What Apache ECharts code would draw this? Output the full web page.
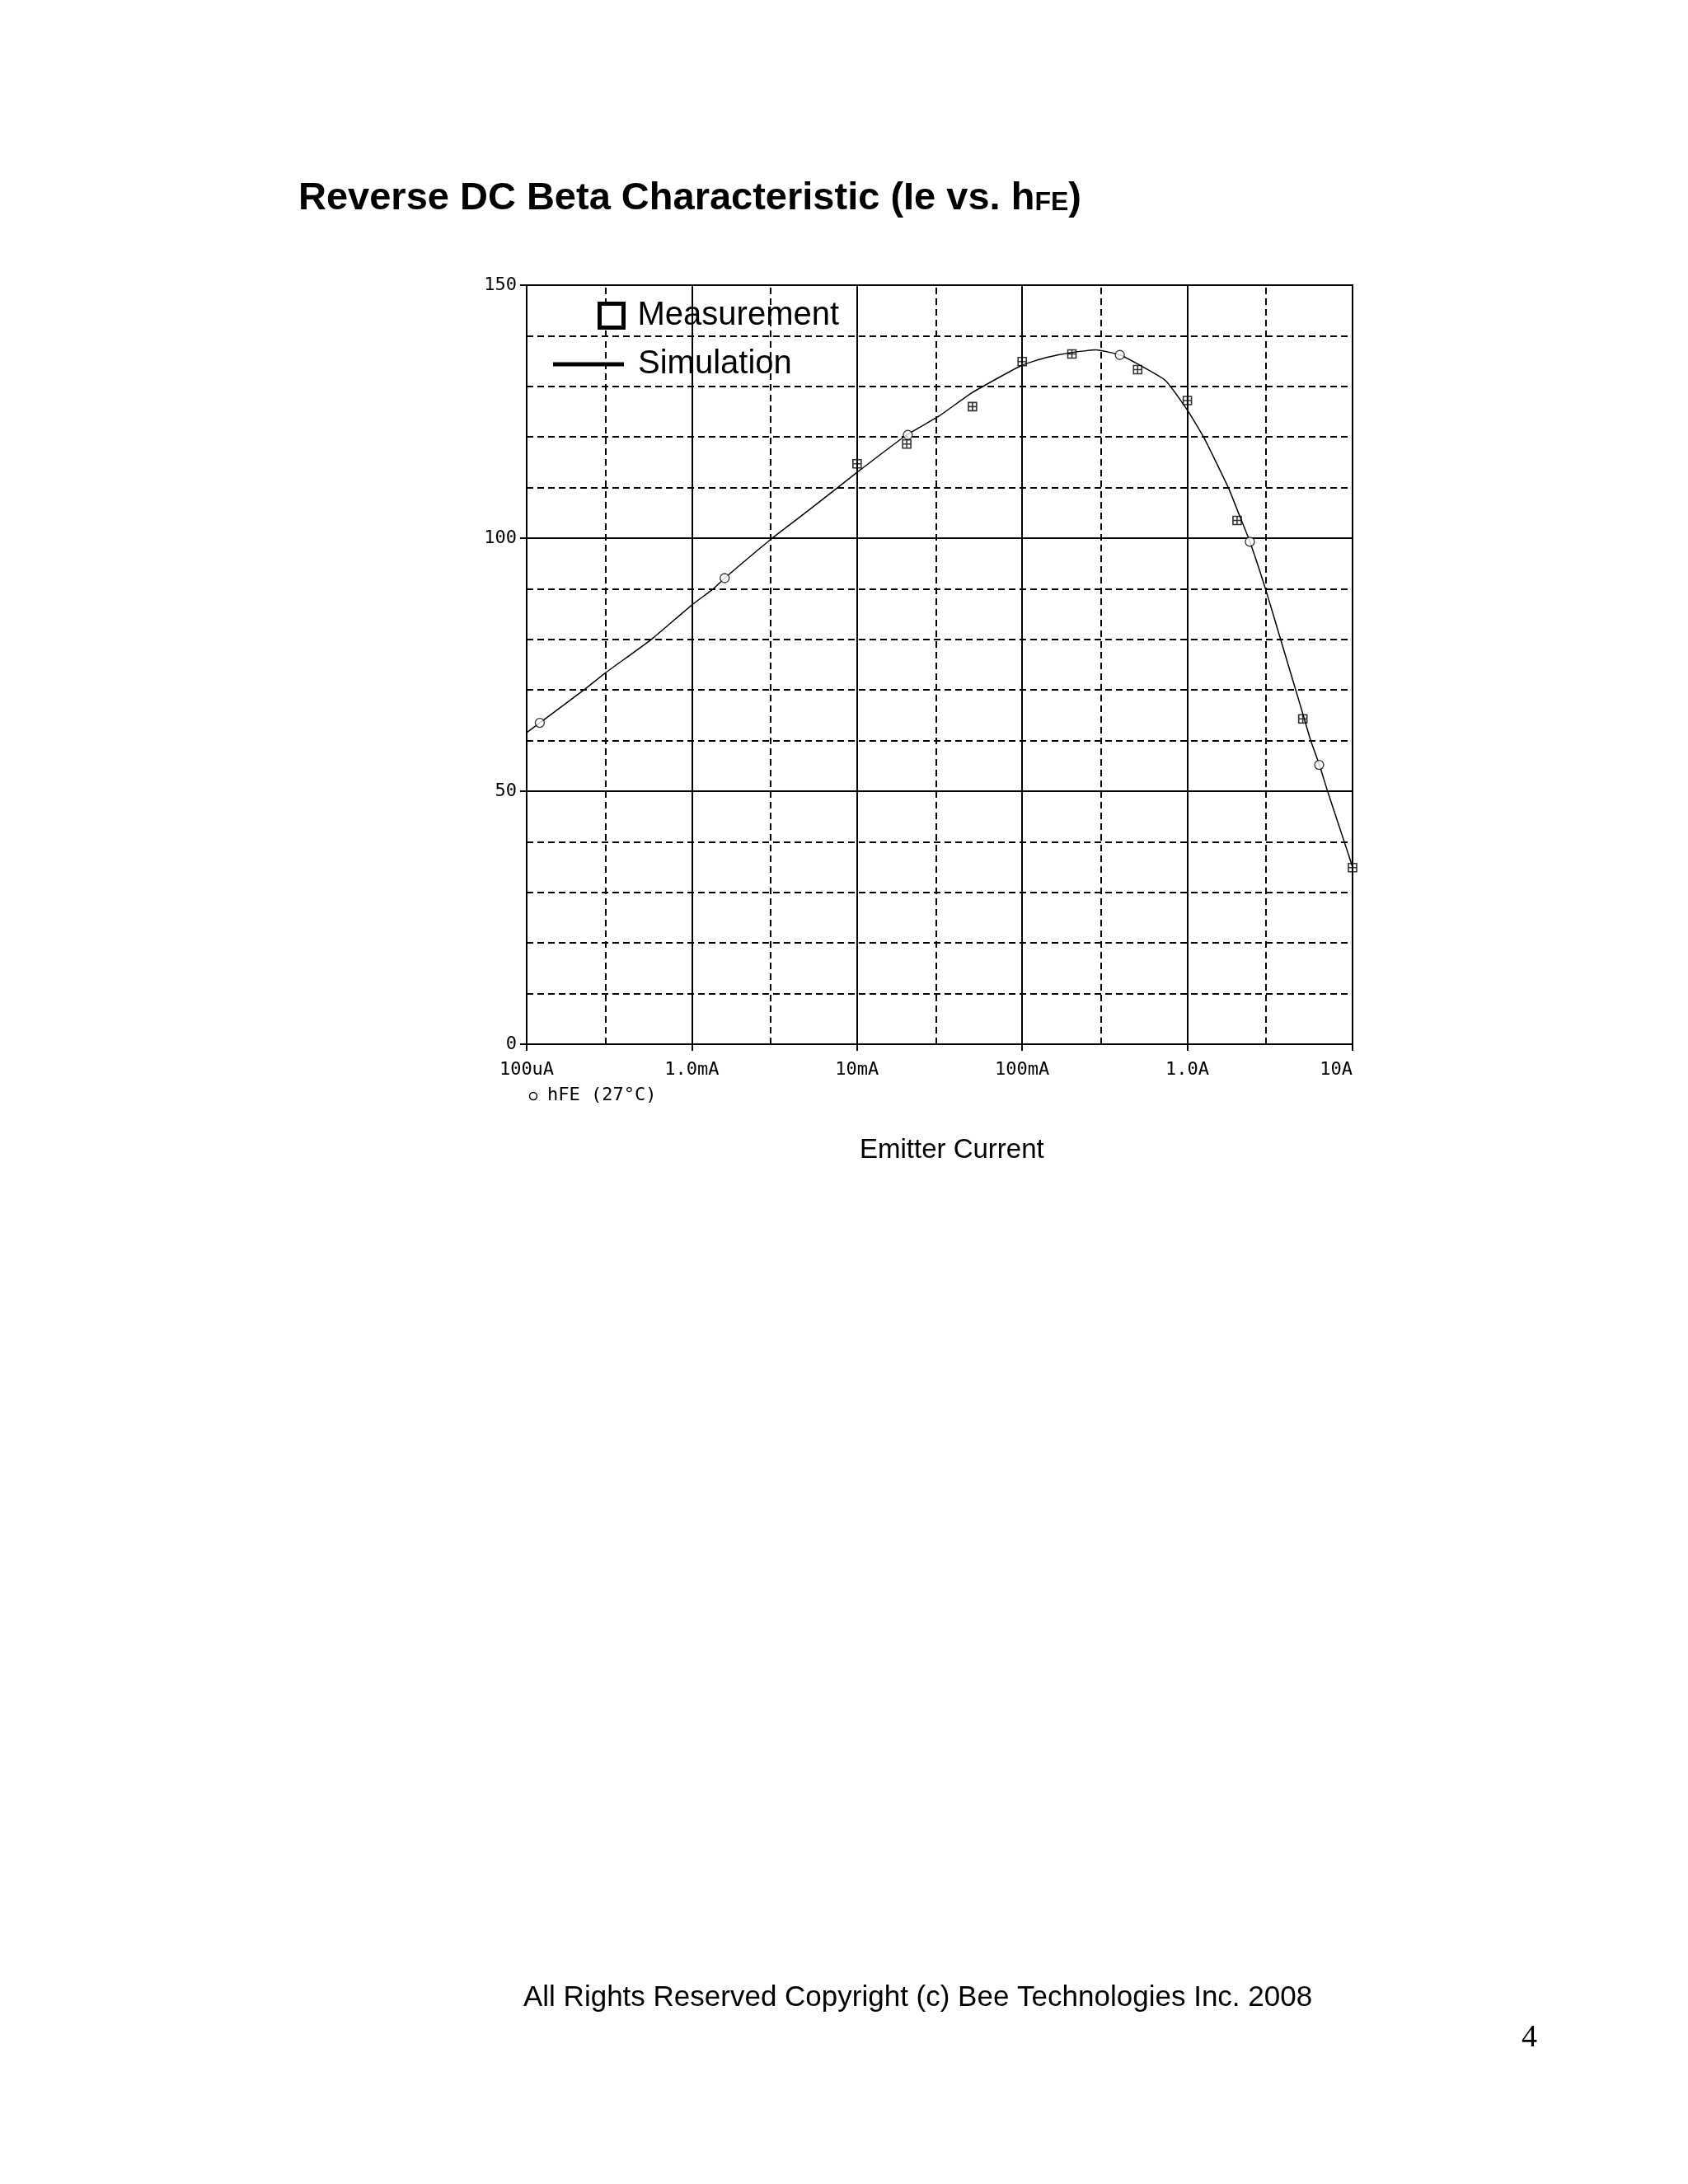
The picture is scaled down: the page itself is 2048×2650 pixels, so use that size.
<!DOCTYPE html>
<html>
<head>
<meta charset="utf-8">
<title>Reverse DC Beta Characteristic</title>
<script src="https://cdn.jsdelivr.net/npm/echarts@6/dist/echarts.min.js"></script>
<style>
  html, body { margin: 0; padding: 0; background: #fff; }
  #chart { width: 2048px; height: 2650px; }
</style>
</head>
<body>
<div id="chart"></div>
<script>
// emitter current (A) and hFE of the simulated curve
var simCurrent = [1.0e-4, 1.2e-4, 2.22e-4, 3.0e-4, 5.69e-4, 1.0e-3, 1.35e-3, 1.58e-3, 3.07e-3,
    5.0e-3, 1.0e-2, 2.0e-2, 3.16e-2, 5.0e-2, 0.1, 0.14, 0.2, 0.28, 0.39, 0.495, 0.734, 1.0,
    1.253, 1.77, 2.05, 2.39, 2.97, 3.63, 4.53, 5.0, 5.58, 6.3, 7.06, 9.12, 10];
var simHfe = [61.6, 63.5, 70, 73.4, 80, 86.8, 90, 92.1, 100,
    105.3, 113, 120.4, 124.2, 128.8, 134.2, 135.7, 136.7, 137.2, 136.2, 134.5, 131.2, 125.3,
    120, 110, 104.8, 99.3, 90, 80.5, 70, 65.3, 60, 55.2, 50, 39, 35];

// trace markers (circles) on the simulated curve
var markCurrent = [1.2e-4, 1.58e-3, 2.03e-2, 0.39, 2.39, 6.28];
var markHfe = [63.5, 92.1, 120.4, 136.2, 99.3, 55.2];

// measured points
var measCurrent = [0.01, 0.02, 0.05, 0.1, 0.2, 0.5, 1, 2, 5, 10];
var measHfe = [114.7, 118.6, 126.0, 134.9, 136.4, 133.3, 127.2, 103.5, 64.3, 34.9];

var xTickLabels = ['100uA', '1.0mA', '10mA', '100mA', '1.0A', '10A'];
// dashed vertical grid lines between decades
var xDashedGrid = [3e-4, 3e-3, 3e-2, 0.3, 3];
var yMin = 0, yMax = 150;

function zip(xs, ys) {
    var out = [];
    for (var i = 0; i < xs.length; i++) {
        out.push([xs[i], ys[i]]);
    }
    return out;
}

var monoFont = 'DejaVu Sans Mono';
var sansFont = 'Liberation Sans';
var gridLeft = 639, gridTop = 346, gridW = 1002, gridH = 921;
var dashStyle = {color: '#000', width: 2, type: [8, 5]};

var myChart = echarts.init(document.getElementById('chart'), null, {renderer: 'canvas'});

var option = {
    backgroundColor: '#fff',
    animation: false,
    grid: {
        left: gridLeft, top: gridTop, width: gridW, height: gridH,
        show: true, borderColor: '#000', borderWidth: 2, backgroundColor: 'transparent'
    },
    legend: [
        {
            data: [{name: 'Measurement', icon: 'rect',
                itemStyle: {color: '#ffffff', opacity: 1, borderColor: '#000', borderWidth: 5}}],
            left: 720, top: 358, itemWidth: 29, itemHeight: 29, z: 10,
            selectedMode: false,
            textStyle: {fontFamily: sansFont, fontSize: 40, color: '#000', padding: [0, 0, 0, 12]}
        },
        {
            data: [{name: 'Simulation', icon: 'rect', itemStyle: {color: '#000', borderWidth: 0}}],
            left: 666, top: 417, itemWidth: 86, itemHeight: 5, z: 10,
            selectedMode: false,
            textStyle: {fontFamily: sansFont, fontSize: 40, color: '#000', padding: [0, 0, 0, 12]}
        }
    ],
    xAxis: {
        type: 'log', logBase: 10, min: 1e-4, max: 10,
        axisLine: {show: true, lineStyle: {color: '#000', width: 2}},
        axisTick: {show: true, length: 8, lineStyle: {color: '#000', width: 2}},
        axisLabel: {
            margin: 20, fontFamily: monoFont, fontSize: 22, color: '#000',
            alignMaxLabel: 'right',
            formatter: function (v) {
                return xTickLabels[Math.round(Math.log10(v)) + 4];
            }
        },
        splitLine: {show: true, lineStyle: {color: '#000', width: 2, type: 'solid'}}
    },
    yAxis: [
        {
            type: 'value', min: yMin, max: yMax, interval: 50,
            axisLine: {show: true, lineStyle: {color: '#000', width: 2}},
            axisTick: {show: true, length: 8, lineStyle: {color: '#000', width: 2}},
            axisLabel: {margin: 12, fontFamily: monoFont, fontSize: 22, color: '#000'},
            splitLine: {show: true, lineStyle: {color: '#000', width: 2, type: 'solid'}}
        },
        {
            type: 'value', min: yMin, max: yMax, interval: 10, position: 'left',
            axisLine: {show: false}, axisTick: {show: false}, axisLabel: {show: false},
            splitLine: {show: true, lineStyle: dashStyle}
        }
    ],
    series: [
        {
            name: 'grid', type: 'line', data: [], z: 1, silent: true,
            markLine: {
                silent: true, symbol: ['none', 'none'], label: {show: false},
                lineStyle: dashStyle, animation: false,
                data: xDashedGrid.map(function (v) {
                    return [{coord: [v, yMin]}, {coord: [v, yMax]}];
                })
            }
        },
        {
            name: 'Simulation', type: 'line', yAxisIndex: 0,
            data: zip(simCurrent, simHfe),
            showSymbol: false, smooth: 0.15,
            lineStyle: {color: '#000', width: 1.5},
            itemStyle: {color: '#000'},
            z: 3
        },
        {
            name: 'hFE markers', type: 'scatter', yAxisIndex: 0,
            data: zip(markCurrent, markHfe),
            symbol: 'circle', symbolSize: 11,
            itemStyle: {color: '#fff', borderColor: '#000', borderWidth: 1.3},
            z: 4
        },
        {
            name: 'Measurement', type: 'scatter', yAxisIndex: 0,
            data: zip(measCurrent, measHfe),
            symbol: 'path://M0,0H10V10H0Z M5,0V10 M0,5H10', symbolSize: 10,
            itemStyle: {color: 'rgba(0,0,0,0)', borderColor: '#000', borderWidth: 1.6},
            z: 5
        }
    ],
    graphic: [
        {
            type: 'text', left: 362, top: 218,
            style: {
                rich: {
                    a: {fontFamily: sansFont, fontWeight: 'bold', fontSize: 47, lineHeight: 54,
                        verticalAlign: 'bottom', fill: '#000'},
                    b: {fontFamily: sansFont, fontWeight: 'bold', fontSize: 32, lineHeight: 54,
                        verticalAlign: 'bottom', fill: '#000', padding: [0, 0, 3, 0]}
                },
                text: '{a|Reverse DC Beta Characteristic (Ie vs. h}{b|FE}{a|)}'
            }
        },
        {
            type: 'circle', shape: {cx: 647, cy: 1330, r: 4.5},
            style: {fill: '#fff', stroke: '#000', lineWidth: 1.5}
        },
        {
            type: 'text', left: 664, top: 1318,
            style: {text: 'hFE (27°C)', fontFamily: monoFont, fontSize: 22, fill: '#000'}
        },
        {
            type: 'text', left: 1043, top: 1379,
            style: {text: 'Emitter Current', fontFamily: sansFont, fontSize: 33, fill: '#000'}
        },
        {
            type: 'text', left: 635, top: 2407,
            style: {text: 'All Rights Reserved Copyright (c) Bee Technologies Inc. 2008',
                fontFamily: sansFont, fontSize: 35, fill: '#000'}
        },
        {
            type: 'text', left: 1846, top: 2454,
            style: {text: '4', fontFamily: 'Liberation Serif', fontSize: 38, fill: '#000'}
        }
    ]
};

myChart.setOption(option);
</script>
</body>
</html>
